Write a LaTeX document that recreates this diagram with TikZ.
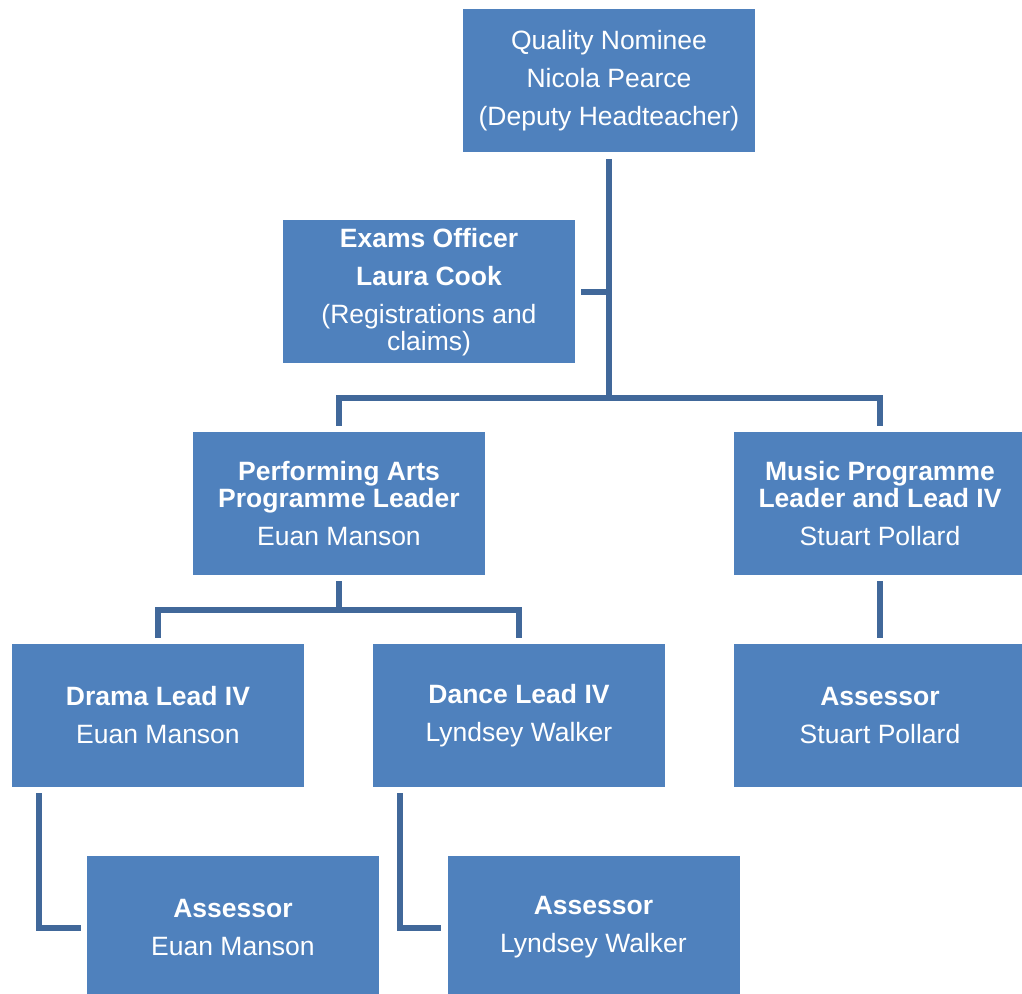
\documentclass[tikz,border=0pt]{standalone}
\usepackage{fontspec}
\setmainfont{Liberation Sans}
\definecolor{boxblue}{HTML}{4F81BD}
\definecolor{linkblue}{HTML}{41689A}
\tikzset{
  post/.style={rectangle,fill=boxblue,text=white,minimum width=146pt,minimum height=71.5pt,
    inner sep=0pt,align=center,font=\fontsize{13.25}{13.5}\selectfont},
  link/.style={linkblue,line width=3pt,shorten <=3pt},
}
\begin{document}
\begin{tikzpicture}[x=0.5pt,y=-0.5pt]
\useasboundingbox (0,0) rectangle (1022,994);
\node [post] (qn) at (609,81) {Quality Nominee\\[5.5pt]Nicola Pearce\\[5.5pt](Deputy Headteacher)};
\node [post] (eo) at (429,292) {\textbf{Exams Officer}\\[5.5pt]\textbf{Laura Cook}\\[5.5pt](Registrations and\\claims)};
\node [post] (pal) at (339,503.5) {\textbf{Performing Arts}\\\textbf{Programme Leader}\\[5.5pt]Euan Manson};
\node [post] (mpl) at (880,503.5) {\textbf{Music Programme}\\\textbf{Leader and Lead IV}\\[5.5pt]Stuart Pollard};
\node [post] (drama) at (158,715.5) {\textbf{Drama Lead IV}\\[5.5pt]Euan Manson};
\node [post] (dance) at (519,715.5) {\textbf{Dance Lead IV}\\[5.5pt]Lyndsey Walker};
\node [post] (asm) at (880,715.5) {\textbf{Assessor}\\[5.5pt]Stuart Pollard};
\node [post] (asdr) at (233,927.5) {\textbf{Assessor}\\[5.5pt]Euan Manson};
\node [post] (asdn) at (593.5,927.5) {\textbf{Assessor}\\[5.5pt]Lyndsey Walker};
\coordinate (bus1) at (609,398);
\coordinate (bus2) at (339,610);
% connectors
\draw [link] (qn.south) -- (bus1);
\draw [link] (eo.east) -- (eo.east -| bus1);
\draw [link,shorten >=3pt] (pal.north) |- (bus1) -| (mpl.north);
\draw [link] (pal.south) -- (bus2);
\draw [link,shorten >=3pt] (drama.north) |- (bus2) -| (dance.north);
\draw [link,shorten >=3pt] (mpl.south) -- (asm.north);
\draw [link,shorten >=3pt] ([xshift=13.5pt]drama.south west) |- (asdr.west);
\draw [link,shorten >=3pt] ([xshift=13.5pt]dance.south west) |- (asdn.west);
\end{tikzpicture}
\end{document}
